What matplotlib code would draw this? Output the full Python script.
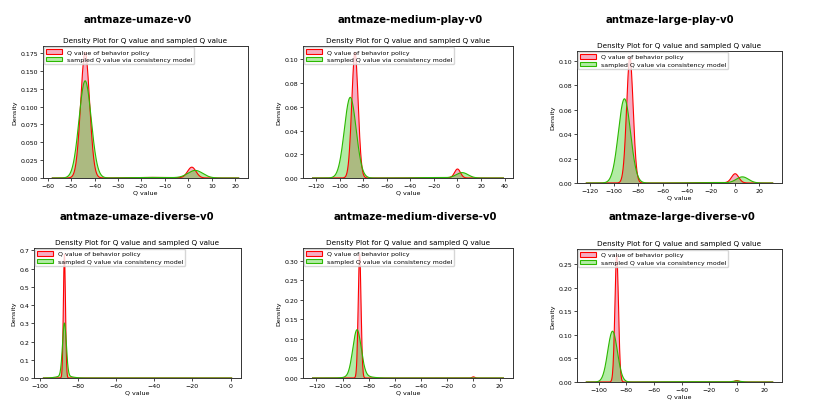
import numpy as np
import matplotlib
matplotlib.use("Agg")
import matplotlib.pyplot as plt
from matplotlib.patches import Patch

# panel names
envs = ["antmaze-umaze-v0", "antmaze-medium-play-v0", "antmaze-large-play-v0",
        "antmaze-umaze-diverse-v0", "antmaze-medium-diverse-v0", "antmaze-large-diverse-v0"]

# support of each density curve (Q value range)
q_lo = [-58, -123, -123, -98, -123, -109]
q_hi = [21.5, 39, 31, 0.5, 23, 26]

# density modes: centre, width, peak height
behav_mu = [[-44, 1.5, -15], [-87, 0, -20], [-87, 0, -20], [-87, -40], [-87, 0], [-87, 0]]
behav_sd = [[1.9, 1.8, 9], [2.7, 2.5, 12], [2.7, 3.0, 12], [0.55, 20], [1.1, 1.0], [1.3, 1.5]]
behav_pk = [[0.176, 0.0150, 0.0008], [0.106, 0.0075, 0.0004], [0.103, 0.0075, 0.0004],
            [0.68, 0.0004], [0.318, 0.003], [0.27, 0.003]]

samp_mu = [[-44, 3, -15], [-91, 4, -20], [-91.5, 6, -20], [-87, -87], [-89, -87], [-90, 0, -40]]
samp_sd = [[2.6, 3.2, 9], [5.0, 5.0, 12], [5.0, 5.0, 12], [1.0, 3.5], [3.2, 7.0], [3.5, 3.0, 15]]
samp_pk = [[0.136, 0.0105, 0.0008], [0.068, 0.0045, 0.0004], [0.069, 0.005, 0.0004],
           [0.29, 0.012], [0.118, 0.006], [0.108, 0.002, 0.0006]]

# layout in pixels (left, right, top, bottom) and bold title positions
W, H = 830, 414
boxes = [(43, 248, 47, 179), (303, 513, 47, 179), (577, 782, 52, 184),
         (34, 241, 249, 379), (303, 513, 249, 379), (577, 782, 250, 383)]
head_xy = [(138, 20), (410, 20), (670, 20), (137, 217), (415, 217), (682, 217)]


def curve(x, mu, sd, pk):
    y = np.zeros_like(x)
    for m, s, p in zip(mu, sd, pk):
        y += p * np.exp(-0.5 * ((x - m) / s) ** 2)
    return y


fig = plt.figure(figsize=(W / 100, H / 100), dpi=100)

for i in range(6):
    l, r, t, b = boxes[i]
    ax = fig.add_axes([l / W, 1 - b / H, (r - l) / W, (b - t) / H])
    x = np.linspace(q_lo[i], q_hi[i], 600)
    yb = curve(x, behav_mu[i], behav_sd[i], behav_pk[i])
    ys = curve(x, samp_mu[i], samp_sd[i], samp_pk[i])

    ax.fill_between(x, yb, facecolor="#e8336a", alpha=0.4, edgecolor="none")
    ax.plot(x, yb, color="red", lw=0.8)
    ax.fill_between(x, ys, facecolor="#40d020", alpha=0.4, edgecolor="none")
    ax.plot(x, ys, color="#2cb800", lw=0.8)

    ax.set_ylim(bottom=0)
    ax.set_title("Density Plot for Q value and sampled Q value", fontsize=5.2, pad=3)
    ax.set_xlabel("Q value", fontsize=4.6, labelpad=1)
    ax.set_ylabel("Density", fontsize=4.6, labelpad=2)
    ax.tick_params(labelsize=4.5, length=2, width=0.5, pad=1.5)
    for sp in ax.spines.values():
        sp.set_linewidth(0.7)
        sp.set_color("#333333")

    handles = [Patch(facecolor=(0.91, 0.2, 0.42, 0.4), edgecolor="red", lw=0.8),
               Patch(facecolor=(0.25, 0.82, 0.12, 0.4), edgecolor="#2cb800", lw=0.8)]
    ax.legend(handles, ["Q value of behavior policy", "sampled Q value via consistency model"],
              loc="upper left", fontsize=4.5, handlelength=2.5, handleheight=0.7,
              handletextpad=0.8, borderpad=0.35, labelspacing=0.35,
              borderaxespad=0.15, framealpha=0.8)

    hx, hy = head_xy[i]
    fig.text(hx / W, 1 - hy / H, envs[i], ha="center", va="center",
             fontsize=7.3, fontweight="bold")

fig.savefig("out.png", dpi=100)
